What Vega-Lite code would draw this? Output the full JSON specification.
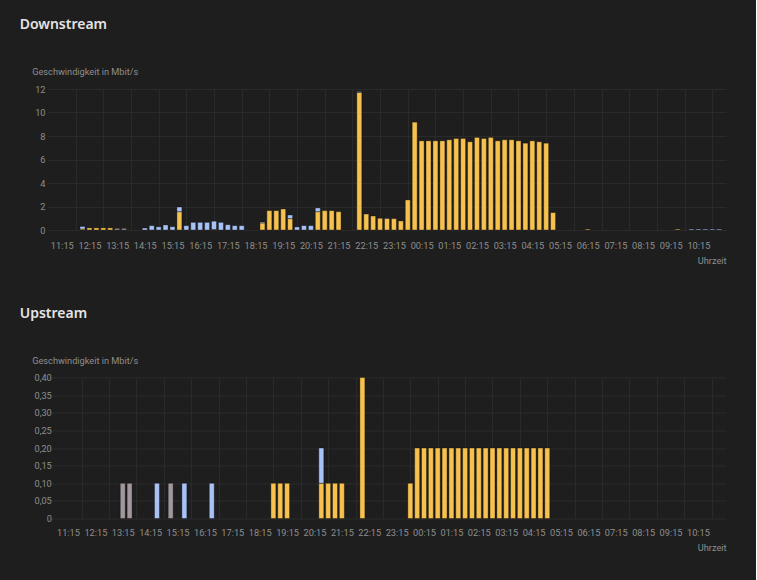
{
  "$schema": "https://vega.github.io/schema/vega-lite/v6.json",
  "background": "#1e1e1e",
  "padding": {"left": 19, "top": 17, "right": 30, "bottom": 30},
  "spacing": 40.5,
  "config": {
    "view": {"stroke": null},
    "font": "Roboto",
    "axis": {
      "labelColor": "#8e8e8e",
      "titleColor": "#8e8e8e",
      "labelFont": "Roboto",
      "titleFont": "Roboto",
      "labelFontSize": 9.2,
      "titleFontSize": 9.2,
      "titleFontWeight": "normal",
      "gridColor": "#2a2a2a",
      "gridWidth": 1,
      "domain": false,
      "ticks": false
    },
    "title": {
      "color": "#e4e4e4",
      "font": "Noto Sans",
      "fontSize": 14,
      "fontWeight": 600,
      "anchor": "start",
      "frame": "group"
    }
  },
  "datasets": {
    "down": [
      {"t": "2024-05-01T12:00", "s": "A", "v": 0.08}, {"t": "2024-05-01T12:00", "s": "B", "v": 0.22},
      {"t": "2024-05-01T12:15", "s": "A", "v": 0.18},
      {"t": "2024-05-01T12:30", "s": "A", "v": 0.18},
      {"t": "2024-05-01T12:45", "s": "A", "v": 0.18},
      {"t": "2024-05-01T13:00", "s": "A", "v": 0.18},
      {"t": "2024-05-01T13:15", "s": "C", "v": 0.14},
      {"t": "2024-05-01T13:30", "s": "C", "v": 0.14},
      {"t": "2024-05-01T14:15", "s": "B", "v": 0.17},
      {"t": "2024-05-01T14:30", "s": "B", "v": 0.37},
      {"t": "2024-05-01T14:45", "s": "B", "v": 0.27},
      {"t": "2024-05-01T15:00", "s": "B", "v": 0.43},
      {"t": "2024-05-01T15:15", "s": "B", "v": 0.28},
      {"t": "2024-05-01T15:30", "s": "A", "v": 1.56}, {"t": "2024-05-01T15:30", "s": "B", "v": 0.4},
      {"t": "2024-05-01T15:45", "s": "B", "v": 0.37},
      {"t": "2024-05-01T16:00", "s": "B", "v": 0.65},
      {"t": "2024-05-01T16:15", "s": "B", "v": 0.65},
      {"t": "2024-05-01T16:30", "s": "B", "v": 0.65},
      {"t": "2024-05-01T16:45", "s": "A", "v": 0.05}, {"t": "2024-05-01T16:45", "s": "B", "v": 0.7},
      {"t": "2024-05-01T17:00", "s": "B", "v": 0.65},
      {"t": "2024-05-01T17:15", "s": "B", "v": 0.45},
      {"t": "2024-05-01T17:30", "s": "B", "v": 0.37},
      {"t": "2024-05-01T17:45", "s": "B", "v": 0.37},
      {"t": "2024-05-01T18:30", "s": "A", "v": 0.6}, {"t": "2024-05-01T18:30", "s": "B", "v": 0.08},
      {"t": "2024-05-01T18:45", "s": "A", "v": 1.65},
      {"t": "2024-05-01T19:00", "s": "A", "v": 1.65},
      {"t": "2024-05-01T19:15", "s": "A", "v": 1.79},
      {"t": "2024-05-01T19:30", "s": "A", "v": 0.97}, {"t": "2024-05-01T19:30", "s": "B", "v": 0.31},
      {"t": "2024-05-01T19:45", "s": "B", "v": 0.26},
      {"t": "2024-05-01T20:00", "s": "B", "v": 0.37},
      {"t": "2024-05-01T20:15", "s": "B", "v": 0.37},
      {"t": "2024-05-01T20:30", "s": "A", "v": 1.56}, {"t": "2024-05-01T20:30", "s": "B", "v": 0.32},
      {"t": "2024-05-01T20:45", "s": "A", "v": 1.65},
      {"t": "2024-05-01T21:00", "s": "A", "v": 1.65},
      {"t": "2024-05-01T21:15", "s": "A", "v": 1.56},
      {"t": "2024-05-01T22:00", "s": "A", "v": 11.7}, {"t": "2024-05-01T22:00", "s": "B", "v": 0.08},
      {"t": "2024-05-01T22:15", "s": "A", "v": 1.36},
      {"t": "2024-05-01T22:30", "s": "A", "v": 1.19},
      {"t": "2024-05-01T22:45", "s": "A", "v": 1.0},
      {"t": "2024-05-01T23:00", "s": "A", "v": 0.98}, {"t": "2024-05-01T23:00", "s": "B", "v": 0.05},
      {"t": "2024-05-01T23:15", "s": "A", "v": 0.97},
      {"t": "2024-05-01T23:30", "s": "A", "v": 0.77},
      {"t": "2024-05-01T23:45", "s": "A", "v": 2.56},
      {"t": "2024-05-02T00:00", "s": "A", "v": 9.18},
      {"t": "2024-05-02T00:15", "s": "A", "v": 7.59},
      {"t": "2024-05-02T00:30", "s": "A", "v": 7.59},
      {"t": "2024-05-02T00:45", "s": "A", "v": 7.59},
      {"t": "2024-05-02T01:00", "s": "A", "v": 7.59},
      {"t": "2024-05-02T01:15", "s": "A", "v": 7.68},
      {"t": "2024-05-02T01:30", "s": "A", "v": 7.79},
      {"t": "2024-05-02T01:45", "s": "A", "v": 7.79},
      {"t": "2024-05-02T02:00", "s": "A", "v": 7.51},
      {"t": "2024-05-02T02:15", "s": "A", "v": 7.88},
      {"t": "2024-05-02T02:30", "s": "A", "v": 7.79},
      {"t": "2024-05-02T02:45", "s": "A", "v": 7.88},
      {"t": "2024-05-02T03:00", "s": "A", "v": 7.59},
      {"t": "2024-05-02T03:15", "s": "A", "v": 7.68},
      {"t": "2024-05-02T03:30", "s": "A", "v": 7.68},
      {"t": "2024-05-02T03:45", "s": "A", "v": 7.59},
      {"t": "2024-05-02T04:00", "s": "A", "v": 7.39},
      {"t": "2024-05-02T04:15", "s": "A", "v": 7.59},
      {"t": "2024-05-02T04:30", "s": "A", "v": 7.51},
      {"t": "2024-05-02T04:45", "s": "A", "v": 7.39},
      {"t": "2024-05-02T05:00", "s": "A", "v": 1.48},
      {"t": "2024-05-02T06:15", "s": "A", "v": 0.08},
      {"t": "2024-05-02T09:30", "s": "A", "v": 0.08},
      {"t": "2024-05-02T10:00", "s": "B", "v": 0.08},
      {"t": "2024-05-02T10:15", "s": "B", "v": 0.08},
      {"t": "2024-05-02T10:30", "s": "B", "v": 0.08},
      {"t": "2024-05-02T10:45", "s": "B", "v": 0.08},
      {"t": "2024-05-02T11:00", "s": "B", "v": 0.08}
    ],
    "up": [
      {"t": "2024-05-01T13:15", "s": "C", "v": 0.1},
      {"t": "2024-05-01T13:30", "s": "C", "v": 0.1},
      {"t": "2024-05-01T14:30", "s": "B", "v": 0.1},
      {"t": "2024-05-01T15:00", "s": "C", "v": 0.1},
      {"t": "2024-05-01T15:30", "s": "B", "v": 0.1},
      {"t": "2024-05-01T16:30", "s": "B", "v": 0.1},
      {"t": "2024-05-01T18:45", "s": "A", "v": 0.1},
      {"t": "2024-05-01T19:00", "s": "A", "v": 0.1},
      {"t": "2024-05-01T19:15", "s": "A", "v": 0.1},
      {"t": "2024-05-01T20:30", "s": "A", "v": 0.1}, {"t": "2024-05-01T20:30", "s": "B", "v": 0.1},
      {"t": "2024-05-01T20:45", "s": "A", "v": 0.1},
      {"t": "2024-05-01T21:00", "s": "A", "v": 0.1},
      {"t": "2024-05-01T21:15", "s": "A", "v": 0.1},
      {"t": "2024-05-01T22:00", "s": "A", "v": 0.4},
      {"t": "2024-05-01T23:45", "s": "A", "v": 0.1},
      {"t": "2024-05-02T00:00", "s": "A", "v": 0.2},
      {"t": "2024-05-02T00:15", "s": "A", "v": 0.2},
      {"t": "2024-05-02T00:30", "s": "A", "v": 0.2},
      {"t": "2024-05-02T00:45", "s": "A", "v": 0.2},
      {"t": "2024-05-02T01:00", "s": "A", "v": 0.2},
      {"t": "2024-05-02T01:15", "s": "A", "v": 0.2},
      {"t": "2024-05-02T01:30", "s": "A", "v": 0.2},
      {"t": "2024-05-02T01:45", "s": "A", "v": 0.2},
      {"t": "2024-05-02T02:00", "s": "A", "v": 0.2},
      {"t": "2024-05-02T02:15", "s": "A", "v": 0.2},
      {"t": "2024-05-02T02:30", "s": "A", "v": 0.2},
      {"t": "2024-05-02T02:45", "s": "A", "v": 0.2},
      {"t": "2024-05-02T03:00", "s": "A", "v": 0.2},
      {"t": "2024-05-02T03:15", "s": "A", "v": 0.2},
      {"t": "2024-05-02T03:30", "s": "A", "v": 0.2},
      {"t": "2024-05-02T03:45", "s": "A", "v": 0.2},
      {"t": "2024-05-02T04:00", "s": "A", "v": 0.2},
      {"t": "2024-05-02T04:15", "s": "A", "v": 0.2},
      {"t": "2024-05-02T04:30", "s": "A", "v": 0.2},
      {"t": "2024-05-02T04:45", "s": "A", "v": 0.2}
    ]
  },
  "vconcat": [
    {
      "title": {"text": "Downstream", "dx": -28.3, "offset": 35.5},
      "width": 678,
      "height": 141,
      "data": {"name": "down"},
      "resolve": {"axis": {"x": "independent"}},
      "layer": [
        {
          "mark": {"type": "bar", "width": 5, "stroke": "#000000", "strokeOpacity": 0.35, "strokeWidth": 1},
          "encoding": {
            "x": {
              "field": "t", "type": "temporal",
              "scale": {"domain": [
                {"year": 2024, "month": 5, "date": 1, "hours": 10, "minutes": 56},
                {"year": 2024, "month": 5, "date": 2, "hours": 11, "minutes": 4}
              ]},
              "axis": {
                "orient": "bottom", "grid": false, "format": "%H:%M", "labelOverlap": false, "labelFlush": false,
                "labelPadding": 11, "title": "Uhrzeit", "titleAnchor": "end", "titlePadding": 6,
                "values": [
                  {"year": 2024, "month": 5, "date": 1, "hours": 11, "minutes": 15},
                  {"year": 2024, "month": 5, "date": 1, "hours": 12, "minutes": 15},
                  {"year": 2024, "month": 5, "date": 1, "hours": 13, "minutes": 15},
                  {"year": 2024, "month": 5, "date": 1, "hours": 14, "minutes": 15},
                  {"year": 2024, "month": 5, "date": 1, "hours": 15, "minutes": 15},
                  {"year": 2024, "month": 5, "date": 1, "hours": 16, "minutes": 15},
                  {"year": 2024, "month": 5, "date": 1, "hours": 17, "minutes": 15},
                  {"year": 2024, "month": 5, "date": 1, "hours": 18, "minutes": 15},
                  {"year": 2024, "month": 5, "date": 1, "hours": 19, "minutes": 15},
                  {"year": 2024, "month": 5, "date": 1, "hours": 20, "minutes": 15},
                  {"year": 2024, "month": 5, "date": 1, "hours": 21, "minutes": 15},
                  {"year": 2024, "month": 5, "date": 1, "hours": 22, "minutes": 15},
                  {"year": 2024, "month": 5, "date": 1, "hours": 23, "minutes": 15},
                  {"year": 2024, "month": 5, "date": 2, "hours": 0, "minutes": 15},
                  {"year": 2024, "month": 5, "date": 2, "hours": 1, "minutes": 15},
                  {"year": 2024, "month": 5, "date": 2, "hours": 2, "minutes": 15},
                  {"year": 2024, "month": 5, "date": 2, "hours": 3, "minutes": 15},
                  {"year": 2024, "month": 5, "date": 2, "hours": 4, "minutes": 15},
                  {"year": 2024, "month": 5, "date": 2, "hours": 5, "minutes": 15},
                  {"year": 2024, "month": 5, "date": 2, "hours": 6, "minutes": 15},
                  {"year": 2024, "month": 5, "date": 2, "hours": 7, "minutes": 15},
                  {"year": 2024, "month": 5, "date": 2, "hours": 8, "minutes": 15},
                  {"year": 2024, "month": 5, "date": 2, "hours": 9, "minutes": 15},
                  {"year": 2024, "month": 5, "date": 2, "hours": 10, "minutes": 15}
                ]
              }
            },
            "y": {
              "field": "v", "type": "quantitative", "stack": "zero",
              "scale": {"domain": [0, 12], "nice": false},
              "axis": {
                "values": [0, 2, 4, 6, 8, 10, 12], "grid": true, "labelPadding": 3,
                "title": "Geschwindigkeit in Mbit/s", "titleAngle": 0, "titleAlign": "left",
                "titleBaseline": "middle", "titleX": -16.3, "titleY": -18
              }
            },
            "color": {
              "field": "s", "type": "nominal", "legend": null,
              "scale": {"domain": ["A", "B", "C"], "range": ["#f6c14f", "#a9c2f6", "#a3979f"]}
            },
            "order": {"field": "s", "sort": "ascending"}
          }
        },
        {
          "mark": {"type": "rule", "opacity": 0},
          "encoding": {
            "x": {
              "field": "t", "type": "temporal",
              "axis": {
                "orient": "bottom", "grid": true, "labels": false, "ticks": false, "domain": false, "title": null,
                "values": [
                  {"year": 2024, "month": 5, "date": 1, "hours": 11, "minutes": 45},
                  {"year": 2024, "month": 5, "date": 1, "hours": 12, "minutes": 45},
                  {"year": 2024, "month": 5, "date": 1, "hours": 13, "minutes": 45},
                  {"year": 2024, "month": 5, "date": 1, "hours": 14, "minutes": 45},
                  {"year": 2024, "month": 5, "date": 1, "hours": 15, "minutes": 45},
                  {"year": 2024, "month": 5, "date": 1, "hours": 16, "minutes": 45},
                  {"year": 2024, "month": 5, "date": 1, "hours": 17, "minutes": 45},
                  {"year": 2024, "month": 5, "date": 1, "hours": 18, "minutes": 45},
                  {"year": 2024, "month": 5, "date": 1, "hours": 19, "minutes": 45},
                  {"year": 2024, "month": 5, "date": 1, "hours": 20, "minutes": 45},
                  {"year": 2024, "month": 5, "date": 1, "hours": 21, "minutes": 45},
                  {"year": 2024, "month": 5, "date": 1, "hours": 22, "minutes": 45},
                  {"year": 2024, "month": 5, "date": 1, "hours": 23, "minutes": 45},
                  {"year": 2024, "month": 5, "date": 2, "hours": 0, "minutes": 45},
                  {"year": 2024, "month": 5, "date": 2, "hours": 1, "minutes": 45},
                  {"year": 2024, "month": 5, "date": 2, "hours": 2, "minutes": 45},
                  {"year": 2024, "month": 5, "date": 2, "hours": 3, "minutes": 45},
                  {"year": 2024, "month": 5, "date": 2, "hours": 4, "minutes": 45},
                  {"year": 2024, "month": 5, "date": 2, "hours": 5, "minutes": 45},
                  {"year": 2024, "month": 5, "date": 2, "hours": 6, "minutes": 45},
                  {"year": 2024, "month": 5, "date": 2, "hours": 7, "minutes": 45},
                  {"year": 2024, "month": 5, "date": 2, "hours": 8, "minutes": 45},
                  {"year": 2024, "month": 5, "date": 2, "hours": 9, "minutes": 45},
                  {"year": 2024, "month": 5, "date": 2, "hours": 10, "minutes": 45}
                ]
              }
            }
          }
        }
      ]
    },
    {
      "title": {"text": "Upstream", "dx": -28.3, "offset": 35.5},
      "width": 678,
      "height": 141,
      "data": {"name": "up"},
      "resolve": {"axis": {"x": "independent"}},
      "layer": [
        {
          "mark": {"type": "bar", "width": 5, "stroke": "#000000", "strokeOpacity": 0.35, "strokeWidth": 1},
          "encoding": {
            "x": {
              "field": "t", "type": "temporal",
              "scale": {"domain": [
                {"year": 2024, "month": 5, "date": 1, "hours": 10, "minutes": 42, "seconds": 12},
                {"year": 2024, "month": 5, "date": 2, "hours": 11, "minutes": 5, "seconds": 36}
              ]},
              "axis": {
                "orient": "bottom", "grid": false, "format": "%H:%M", "labelOverlap": false, "labelFlush": false,
                "labelPadding": 9.5, "title": "Uhrzeit", "titleAnchor": "end", "titlePadding": 6.5,
                "values": [
                  {"year": 2024, "month": 5, "date": 1, "hours": 11, "minutes": 15},
                  {"year": 2024, "month": 5, "date": 1, "hours": 12, "minutes": 15},
                  {"year": 2024, "month": 5, "date": 1, "hours": 13, "minutes": 15},
                  {"year": 2024, "month": 5, "date": 1, "hours": 14, "minutes": 15},
                  {"year": 2024, "month": 5, "date": 1, "hours": 15, "minutes": 15},
                  {"year": 2024, "month": 5, "date": 1, "hours": 16, "minutes": 15},
                  {"year": 2024, "month": 5, "date": 1, "hours": 17, "minutes": 15},
                  {"year": 2024, "month": 5, "date": 1, "hours": 18, "minutes": 15},
                  {"year": 2024, "month": 5, "date": 1, "hours": 19, "minutes": 15},
                  {"year": 2024, "month": 5, "date": 1, "hours": 20, "minutes": 15},
                  {"year": 2024, "month": 5, "date": 1, "hours": 21, "minutes": 15},
                  {"year": 2024, "month": 5, "date": 1, "hours": 22, "minutes": 15},
                  {"year": 2024, "month": 5, "date": 1, "hours": 23, "minutes": 15},
                  {"year": 2024, "month": 5, "date": 2, "hours": 0, "minutes": 15},
                  {"year": 2024, "month": 5, "date": 2, "hours": 1, "minutes": 15},
                  {"year": 2024, "month": 5, "date": 2, "hours": 2, "minutes": 15},
                  {"year": 2024, "month": 5, "date": 2, "hours": 3, "minutes": 15},
                  {"year": 2024, "month": 5, "date": 2, "hours": 4, "minutes": 15},
                  {"year": 2024, "month": 5, "date": 2, "hours": 5, "minutes": 15},
                  {"year": 2024, "month": 5, "date": 2, "hours": 6, "minutes": 15},
                  {"year": 2024, "month": 5, "date": 2, "hours": 7, "minutes": 15},
                  {"year": 2024, "month": 5, "date": 2, "hours": 8, "minutes": 15},
                  {"year": 2024, "month": 5, "date": 2, "hours": 9, "minutes": 15},
                  {"year": 2024, "month": 5, "date": 2, "hours": 10, "minutes": 15}
                ]
              }
            },
            "y": {
              "field": "v", "type": "quantitative", "stack": "zero",
              "scale": {"domain": [0, 0.4], "nice": false},
              "axis": {
                "values": [0, 0.05, 0.1, 0.15, 0.2, 0.25, 0.3, 0.35, 0.4], "grid": true, "labelPadding": -3.3,
                "labelExpr": "datum.value == 0 ? '0' : replace(format(datum.value, '.2f'), '.', ',')",
                "title": "Geschwindigkeit in Mbit/s", "titleAngle": 0, "titleAlign": "left",
                "titleBaseline": "middle", "titleX": -16.3, "titleY": -17.5
              }
            },
            "color": {
              "field": "s", "type": "nominal", "legend": null,
              "scale": {"domain": ["A", "B", "C"], "range": ["#f6c14f", "#a9c2f6", "#a3979f"]}
            },
            "order": {"field": "s", "sort": "ascending"}
          }
        },
        {
          "mark": {"type": "rule", "opacity": 0},
          "encoding": {
            "x": {
              "field": "t", "type": "temporal",
              "axis": {
                "orient": "bottom", "grid": true, "labels": false, "ticks": false, "domain": false, "title": null,
                "values": [
                  {"year": 2024, "month": 5, "date": 1, "hours": 11, "minutes": 45},
                  {"year": 2024, "month": 5, "date": 1, "hours": 12, "minutes": 45},
                  {"year": 2024, "month": 5, "date": 1, "hours": 13, "minutes": 45},
                  {"year": 2024, "month": 5, "date": 1, "hours": 14, "minutes": 45},
                  {"year": 2024, "month": 5, "date": 1, "hours": 15, "minutes": 45},
                  {"year": 2024, "month": 5, "date": 1, "hours": 16, "minutes": 45},
                  {"year": 2024, "month": 5, "date": 1, "hours": 17, "minutes": 45},
                  {"year": 2024, "month": 5, "date": 1, "hours": 18, "minutes": 45},
                  {"year": 2024, "month": 5, "date": 1, "hours": 19, "minutes": 45},
                  {"year": 2024, "month": 5, "date": 1, "hours": 20, "minutes": 45},
                  {"year": 2024, "month": 5, "date": 1, "hours": 21, "minutes": 45},
                  {"year": 2024, "month": 5, "date": 1, "hours": 22, "minutes": 45},
                  {"year": 2024, "month": 5, "date": 1, "hours": 23, "minutes": 45},
                  {"year": 2024, "month": 5, "date": 2, "hours": 0, "minutes": 45},
                  {"year": 2024, "month": 5, "date": 2, "hours": 1, "minutes": 45},
                  {"year": 2024, "month": 5, "date": 2, "hours": 2, "minutes": 45},
                  {"year": 2024, "month": 5, "date": 2, "hours": 3, "minutes": 45},
                  {"year": 2024, "month": 5, "date": 2, "hours": 4, "minutes": 45},
                  {"year": 2024, "month": 5, "date": 2, "hours": 5, "minutes": 45},
                  {"year": 2024, "month": 5, "date": 2, "hours": 6, "minutes": 45},
                  {"year": 2024, "month": 5, "date": 2, "hours": 7, "minutes": 45},
                  {"year": 2024, "month": 5, "date": 2, "hours": 8, "minutes": 45},
                  {"year": 2024, "month": 5, "date": 2, "hours": 9, "minutes": 45},
                  {"year": 2024, "month": 5, "date": 2, "hours": 10, "minutes": 45}
                ]
              }
            }
          }
        }
      ]
    }
  ]
}
